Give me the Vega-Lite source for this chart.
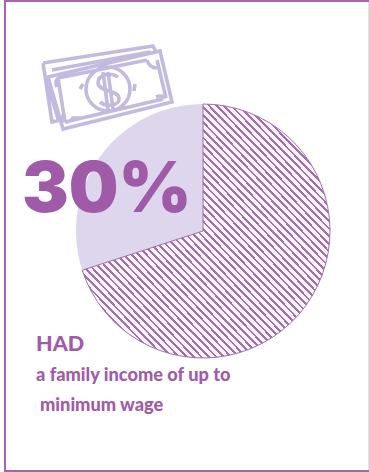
{"$schema":"https://vega.github.io/schema/vega-lite/v6.json","width":369,"height":472,"padding":0,"autosize":{"type":"none"},"background":"white","view":{"stroke":null},"layer":[
{"data":{"values":[{}]},"mark":{"type":"rule","stroke":"#a564ad","strokeWidth":2},"encoding":{"x":{"value":4},"x2":{"value":369},"y":{"value":1},"y2":{"value":1}}},
{"data":{"values":[{}]},"mark":{"type":"rule","stroke":"#a564ad","strokeWidth":2},"encoding":{"x":{"value":4},"x2":{"value":369},"y":{"value":471},"y2":{"value":471}}},
{"data":{"values":[{}]},"mark":{"type":"rule","stroke":"#a564ad","strokeWidth":2},"encoding":{"x":{"value":5},"x2":{"value":5},"y":{"value":0},"y2":{"value":472}}},
{"data":{"values":[{}]},"mark":{"type":"rule","stroke":"#e6dfe8","strokeWidth":1},"encoding":{"x":{"value":368.5},"x2":{"value":368.5},"y":{"value":2},"y2":{"value":470}}},
{"data":{"values":[{"group":"up to minimum wage","share":30},{"group":"above minimum wage","share":70}]},"mark":{"type":"arc","outerRadius":127},"encoding":{"theta":{"field":"share","type":"quantitative","stack":true,"scale":{"domain":[0,100]}},"order":{"field":"share","sort":"descending"},"detail":{"field":"group"},"x":{"value":203},"y":{"value":231},"stroke":{"condition":{"test":"datum.share===70","value":"#a070aa"},"value":null},"strokeWidth":{"value":1},"fill":{"condition":{"test":"datum.share===70","value":{"gradient":"linear","x1":0,"y1":1,"x2":1,"y2":0,"stops":[
{"offset":0,"color":"#9e72a8"},{"offset":0.0055,"color":"#9e72a8"},{"offset":0.0055,"color":"#fef3fe"},{"offset":0.015,"color":"#fef3fe"},
{"offset":0.015,"color":"#9e72a8"},{"offset":0.0205,"color":"#9e72a8"},{"offset":0.0205,"color":"#fef3fe"},{"offset":0.03,"color":"#fef3fe"},
{"offset":0.03,"color":"#9e72a8"},{"offset":0.0355,"color":"#9e72a8"},{"offset":0.0355,"color":"#fef3fe"},{"offset":0.045,"color":"#fef3fe"},
{"offset":0.045,"color":"#9e72a8"},{"offset":0.0505,"color":"#9e72a8"},{"offset":0.0505,"color":"#fef3fe"},{"offset":0.06,"color":"#fef3fe"},
{"offset":0.06,"color":"#9e72a8"},{"offset":0.0655,"color":"#9e72a8"},{"offset":0.0655,"color":"#fef3fe"},{"offset":0.075,"color":"#fef3fe"},
{"offset":0.075,"color":"#9e72a8"},{"offset":0.0805,"color":"#9e72a8"},{"offset":0.0805,"color":"#fef3fe"},{"offset":0.09,"color":"#fef3fe"},
{"offset":0.09,"color":"#9e72a8"},{"offset":0.0955,"color":"#9e72a8"},{"offset":0.0955,"color":"#fef3fe"},{"offset":0.105,"color":"#fef3fe"},
{"offset":0.105,"color":"#9e72a8"},{"offset":0.1105,"color":"#9e72a8"},{"offset":0.1105,"color":"#fef3fe"},{"offset":0.12,"color":"#fef3fe"},
{"offset":0.12,"color":"#9e72a8"},{"offset":0.1255,"color":"#9e72a8"},{"offset":0.1255,"color":"#fef3fe"},{"offset":0.135,"color":"#fef3fe"},
{"offset":0.135,"color":"#9e72a8"},{"offset":0.1405,"color":"#9e72a8"},{"offset":0.1405,"color":"#fef3fe"},{"offset":0.15,"color":"#fef3fe"},
{"offset":0.15,"color":"#9e72a8"},{"offset":0.1555,"color":"#9e72a8"},{"offset":0.1555,"color":"#fef3fe"},{"offset":0.165,"color":"#fef3fe"},
{"offset":0.165,"color":"#9e72a8"},{"offset":0.1705,"color":"#9e72a8"},{"offset":0.1705,"color":"#fef3fe"},{"offset":0.18,"color":"#fef3fe"},
{"offset":0.18,"color":"#9e72a8"},{"offset":0.1855,"color":"#9e72a8"},{"offset":0.1855,"color":"#fef3fe"},{"offset":0.195,"color":"#fef3fe"},
{"offset":0.195,"color":"#9e72a8"},{"offset":0.2005,"color":"#9e72a8"},{"offset":0.2005,"color":"#fef3fe"},{"offset":0.21,"color":"#fef3fe"},
{"offset":0.21,"color":"#9e72a8"},{"offset":0.2155,"color":"#9e72a8"},{"offset":0.2155,"color":"#fef3fe"},{"offset":0.225,"color":"#fef3fe"},
{"offset":0.225,"color":"#9e72a8"},{"offset":0.2305,"color":"#9e72a8"},{"offset":0.2305,"color":"#fef3fe"},{"offset":0.24,"color":"#fef3fe"},
{"offset":0.24,"color":"#9e72a8"},{"offset":0.2455,"color":"#9e72a8"},{"offset":0.2455,"color":"#fef3fe"},{"offset":0.255,"color":"#fef3fe"},
{"offset":0.255,"color":"#9e72a8"},{"offset":0.2605,"color":"#9e72a8"},{"offset":0.2605,"color":"#fef3fe"},{"offset":0.27,"color":"#fef3fe"},
{"offset":0.27,"color":"#9e72a8"},{"offset":0.2755,"color":"#9e72a8"},{"offset":0.2755,"color":"#fef3fe"},{"offset":0.285,"color":"#fef3fe"},
{"offset":0.285,"color":"#9e72a8"},{"offset":0.2905,"color":"#9e72a8"},{"offset":0.2905,"color":"#fef3fe"},{"offset":0.3,"color":"#fef3fe"},
{"offset":0.3,"color":"#9e72a8"},{"offset":0.3055,"color":"#9e72a8"},{"offset":0.3055,"color":"#fef3fe"},{"offset":0.315,"color":"#fef3fe"},
{"offset":0.315,"color":"#9e72a8"},{"offset":0.3205,"color":"#9e72a8"},{"offset":0.3205,"color":"#fef3fe"},{"offset":0.33,"color":"#fef3fe"},
{"offset":0.33,"color":"#9e72a8"},{"offset":0.3355,"color":"#9e72a8"},{"offset":0.3355,"color":"#fef3fe"},{"offset":0.345,"color":"#fef3fe"},
{"offset":0.345,"color":"#9e72a8"},{"offset":0.3505,"color":"#9e72a8"},{"offset":0.3505,"color":"#fef3fe"},{"offset":0.36,"color":"#fef3fe"},
{"offset":0.36,"color":"#9e72a8"},{"offset":0.3655,"color":"#9e72a8"},{"offset":0.3655,"color":"#fef3fe"},{"offset":0.375,"color":"#fef3fe"},
{"offset":0.375,"color":"#9e72a8"},{"offset":0.3805,"color":"#9e72a8"},{"offset":0.3805,"color":"#fef3fe"},{"offset":0.39,"color":"#fef3fe"},
{"offset":0.39,"color":"#9e72a8"},{"offset":0.3955,"color":"#9e72a8"},{"offset":0.3955,"color":"#fef3fe"},{"offset":0.405,"color":"#fef3fe"},
{"offset":0.405,"color":"#9e72a8"},{"offset":0.4105,"color":"#9e72a8"},{"offset":0.4105,"color":"#fef3fe"},{"offset":0.42,"color":"#fef3fe"},
{"offset":0.42,"color":"#9e72a8"},{"offset":0.4255,"color":"#9e72a8"},{"offset":0.4255,"color":"#fef3fe"},{"offset":0.435,"color":"#fef3fe"},
{"offset":0.435,"color":"#9e72a8"},{"offset":0.4405,"color":"#9e72a8"},{"offset":0.4405,"color":"#fef3fe"},{"offset":0.45,"color":"#fef3fe"},
{"offset":0.45,"color":"#9e72a8"},{"offset":0.4555,"color":"#9e72a8"},{"offset":0.4555,"color":"#fef3fe"},{"offset":0.465,"color":"#fef3fe"},
{"offset":0.465,"color":"#9e72a8"},{"offset":0.4705,"color":"#9e72a8"},{"offset":0.4705,"color":"#fef3fe"},{"offset":0.48,"color":"#fef3fe"},
{"offset":0.48,"color":"#9e72a8"},{"offset":0.4855,"color":"#9e72a8"},{"offset":0.4855,"color":"#fef3fe"},{"offset":0.495,"color":"#fef3fe"},
{"offset":0.495,"color":"#9e72a8"},{"offset":0.5005,"color":"#9e72a8"},{"offset":0.5005,"color":"#fef3fe"},{"offset":0.51,"color":"#fef3fe"},
{"offset":0.51,"color":"#9e72a8"},{"offset":0.5155,"color":"#9e72a8"},{"offset":0.5155,"color":"#fef3fe"},{"offset":0.525,"color":"#fef3fe"},
{"offset":0.525,"color":"#9e72a8"},{"offset":0.5305,"color":"#9e72a8"},{"offset":0.5305,"color":"#fef3fe"},{"offset":0.54,"color":"#fef3fe"},
{"offset":0.54,"color":"#9e72a8"},{"offset":0.5455,"color":"#9e72a8"},{"offset":0.5455,"color":"#fef3fe"},{"offset":0.555,"color":"#fef3fe"},
{"offset":0.555,"color":"#9e72a8"},{"offset":0.5605,"color":"#9e72a8"},{"offset":0.5605,"color":"#fef3fe"},{"offset":0.57,"color":"#fef3fe"},
{"offset":0.57,"color":"#9e72a8"},{"offset":0.5755,"color":"#9e72a8"},{"offset":0.5755,"color":"#fef3fe"},{"offset":0.585,"color":"#fef3fe"},
{"offset":0.585,"color":"#9e72a8"},{"offset":0.5905,"color":"#9e72a8"},{"offset":0.5905,"color":"#fef3fe"},{"offset":0.6,"color":"#fef3fe"},
{"offset":0.6,"color":"#9e72a8"},{"offset":0.6055,"color":"#9e72a8"},{"offset":0.6055,"color":"#fef3fe"},{"offset":0.615,"color":"#fef3fe"},
{"offset":0.615,"color":"#9e72a8"},{"offset":0.6205,"color":"#9e72a8"},{"offset":0.6205,"color":"#fef3fe"},{"offset":0.63,"color":"#fef3fe"},
{"offset":0.63,"color":"#9e72a8"},{"offset":0.6355,"color":"#9e72a8"},{"offset":0.6355,"color":"#fef3fe"},{"offset":0.645,"color":"#fef3fe"},
{"offset":0.645,"color":"#9e72a8"},{"offset":0.6505,"color":"#9e72a8"},{"offset":0.6505,"color":"#fef3fe"},{"offset":0.66,"color":"#fef3fe"},
{"offset":0.66,"color":"#9e72a8"},{"offset":0.6655,"color":"#9e72a8"},{"offset":0.6655,"color":"#fef3fe"},{"offset":0.675,"color":"#fef3fe"},
{"offset":0.675,"color":"#9e72a8"},{"offset":0.6805,"color":"#9e72a8"},{"offset":0.6805,"color":"#fef3fe"},{"offset":0.69,"color":"#fef3fe"},
{"offset":0.69,"color":"#9e72a8"},{"offset":0.6955,"color":"#9e72a8"},{"offset":0.6955,"color":"#fef3fe"},{"offset":0.705,"color":"#fef3fe"},
{"offset":0.705,"color":"#9e72a8"},{"offset":0.7105,"color":"#9e72a8"},{"offset":0.7105,"color":"#fef3fe"},{"offset":0.72,"color":"#fef3fe"},
{"offset":0.72,"color":"#9e72a8"},{"offset":0.7255,"color":"#9e72a8"},{"offset":0.7255,"color":"#fef3fe"},{"offset":0.735,"color":"#fef3fe"},
{"offset":0.735,"color":"#9e72a8"},{"offset":0.7405,"color":"#9e72a8"},{"offset":0.7405,"color":"#fef3fe"},{"offset":0.75,"color":"#fef3fe"},
{"offset":0.75,"color":"#9e72a8"},{"offset":0.7555,"color":"#9e72a8"},{"offset":0.7555,"color":"#fef3fe"},{"offset":0.765,"color":"#fef3fe"},
{"offset":0.765,"color":"#9e72a8"},{"offset":0.7705,"color":"#9e72a8"},{"offset":0.7705,"color":"#fef3fe"},{"offset":0.78,"color":"#fef3fe"},
{"offset":0.78,"color":"#9e72a8"},{"offset":0.7855,"color":"#9e72a8"},{"offset":0.7855,"color":"#fef3fe"},{"offset":0.795,"color":"#fef3fe"},
{"offset":0.795,"color":"#9e72a8"},{"offset":0.8005,"color":"#9e72a8"},{"offset":0.8005,"color":"#fef3fe"},{"offset":0.81,"color":"#fef3fe"},
{"offset":0.81,"color":"#9e72a8"},{"offset":0.8155,"color":"#9e72a8"},{"offset":0.8155,"color":"#fef3fe"},{"offset":0.825,"color":"#fef3fe"},
{"offset":0.825,"color":"#9e72a8"},{"offset":0.8305,"color":"#9e72a8"},{"offset":0.8305,"color":"#fef3fe"},{"offset":0.84,"color":"#fef3fe"},
{"offset":0.84,"color":"#9e72a8"},{"offset":0.8455,"color":"#9e72a8"},{"offset":0.8455,"color":"#fef3fe"},{"offset":0.855,"color":"#fef3fe"},
{"offset":0.855,"color":"#9e72a8"},{"offset":0.8605,"color":"#9e72a8"},{"offset":0.8605,"color":"#fef3fe"},{"offset":0.87,"color":"#fef3fe"},
{"offset":0.87,"color":"#9e72a8"},{"offset":0.8755,"color":"#9e72a8"},{"offset":0.8755,"color":"#fef3fe"},{"offset":0.885,"color":"#fef3fe"},
{"offset":0.885,"color":"#9e72a8"},{"offset":0.8905,"color":"#9e72a8"},{"offset":0.8905,"color":"#fef3fe"},{"offset":0.9,"color":"#fef3fe"},
{"offset":0.9,"color":"#9e72a8"},{"offset":0.9055,"color":"#9e72a8"},{"offset":0.9055,"color":"#fef3fe"},{"offset":0.915,"color":"#fef3fe"},
{"offset":0.915,"color":"#9e72a8"},{"offset":0.9205,"color":"#9e72a8"},{"offset":0.9205,"color":"#fef3fe"},{"offset":0.93,"color":"#fef3fe"},
{"offset":0.93,"color":"#9e72a8"},{"offset":0.9355,"color":"#9e72a8"},{"offset":0.9355,"color":"#fef3fe"},{"offset":0.945,"color":"#fef3fe"},
{"offset":0.945,"color":"#9e72a8"},{"offset":0.9505,"color":"#9e72a8"},{"offset":0.9505,"color":"#fef3fe"},{"offset":0.96,"color":"#fef3fe"},
{"offset":0.96,"color":"#9e72a8"},{"offset":0.9655,"color":"#9e72a8"},{"offset":0.9655,"color":"#fef3fe"},{"offset":0.975,"color":"#fef3fe"},
{"offset":0.975,"color":"#9e72a8"},{"offset":0.9805,"color":"#9e72a8"},{"offset":0.9805,"color":"#fef3fe"},{"offset":0.99,"color":"#fef3fe"},
{"offset":0.99,"color":"#9e72a8"},{"offset":0.9955,"color":"#9e72a8"},{"offset":0.9955,"color":"#fef3fe"},{"offset":1,"color":"#fef3fe"}
]}},"value":"#ddd6ec"}}},
{"data":{"values":[{"icon":"banknote"}]},"mark":{"type":"point","filled":false,"stroke":"#c3bbdf","strokeWidth":3.6,"opacity":1,"size":4,"shape":"M-65,-26 L45,-43 L48,-37 M-65,-26 L-56,33 L-43,30 M-56,-19 L42,-37 M-60,-12 L52,-38 L64,13 L-45,40 Z M-50,-11 L39,-29 M49,-29 L58,9 M-43,33 L55,10 M-50,-11 L-43,33 M-62,-10 L-49,33 M-22,0 a22,22 0 1,0 44,0 a22,22 0 1,0 -44,0 M-25,-5 L-28,0 M27,-5 L26,2 M39,-29 a10,10 0 0,0 10,8 M58,9 a10,10 0 0,0 -10,-1 M-43,33 a10,10 0 0,1 -1,-10 M-50,-11 a8,8 0 0,0 -1,9 M-43,33 a9,9 0 0,0 8,-4 L-25,29 M10,-12 C3,-17 -10,-15 -10,-6 C-9,3 10,1 11,9 C12,17 -2,18 -8,13 M-5,-17 L0,21 M0,-17 L5,20"},"encoding":{"x":{"value":108},"y":{"value":89}}},
{"data":{"values":[{"label":"30%"}]},"mark":{"type":"text","font":"Inter","fontWeight":900,"fontSize":70,"align":"left","baseline":"alphabetic","color":"#a05ba8"},"encoding":{"text":{"field":"label"},"x":{"value":22},"y":{"value":212}}},
{"data":{"values":[{"label":"HAD"}]},"mark":{"type":"text","font":"Lato","fontWeight":900,"fontSize":21.5,"align":"left","baseline":"alphabetic","color":"#a05ba8"},"encoding":{"text":{"field":"label"},"x":{"value":36},"y":{"value":351}}},
{"data":{"values":[{"label":"a family income of up to"}]},"mark":{"type":"text","font":"Lato","fontWeight":900,"fontSize":18.2,"align":"left","baseline":"alphabetic","color":"#a05ba8"},"encoding":{"text":{"field":"label"},"x":{"value":36},"y":{"value":381}}},
{"data":{"values":[{"label":"minimum wage"}]},"mark":{"type":"text","font":"Lato","fontWeight":900,"fontSize":18.2,"align":"left","baseline":"alphabetic","color":"#a05ba8"},"encoding":{"text":{"field":"label"},"x":{"value":40},"y":{"value":411}}}
]}
